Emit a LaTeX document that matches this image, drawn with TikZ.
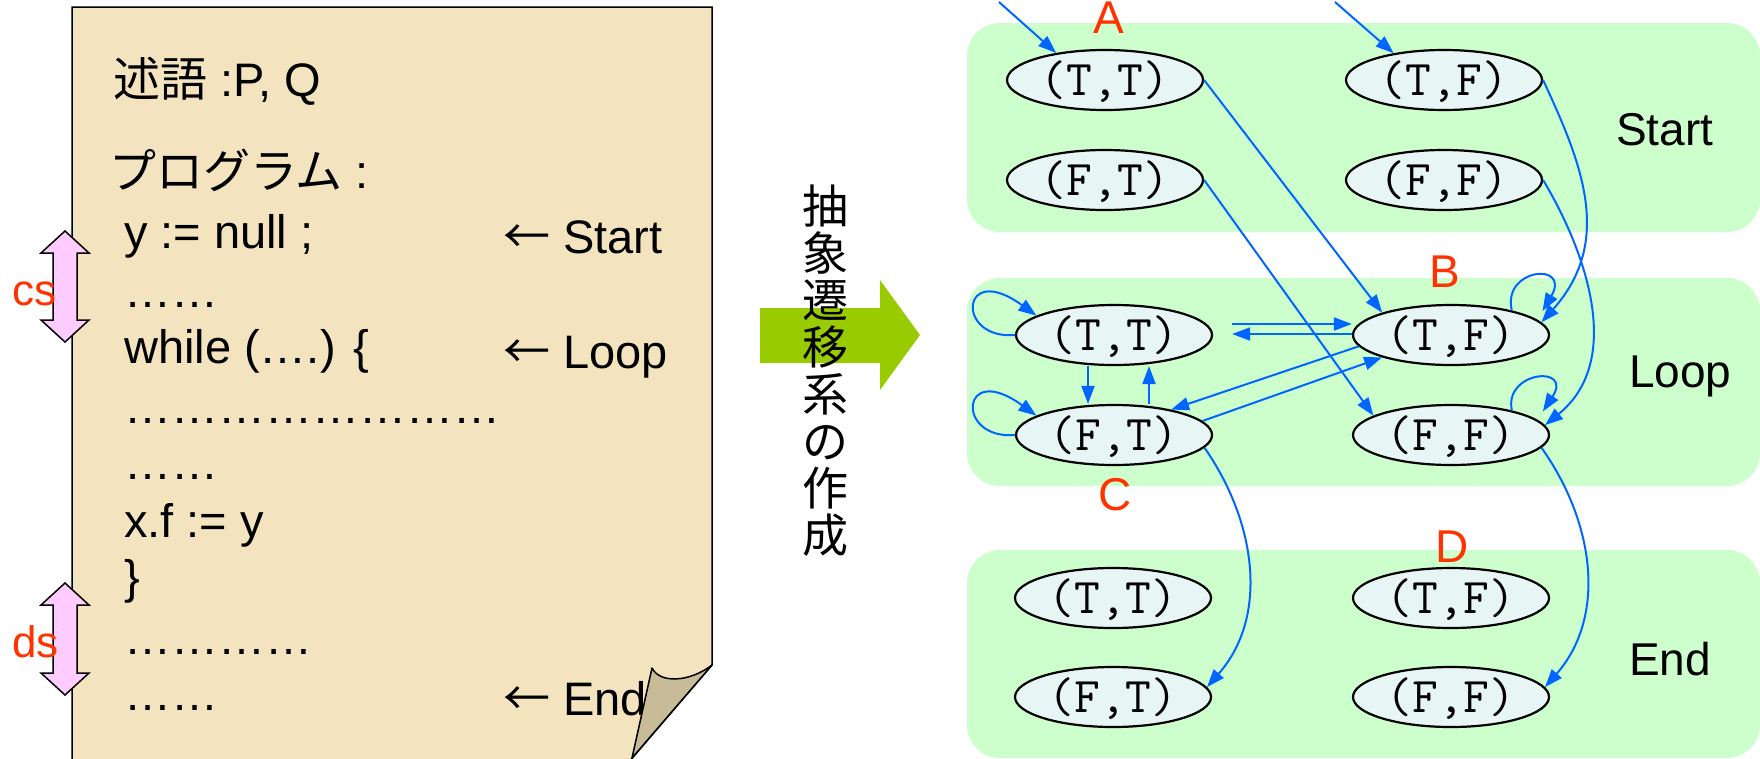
\documentclass[tikz,border=0pt]{standalone}
\usepackage{fontspec}
\setmainfont{Liberation Sans}
\newfontfamily\cjk{Noto Sans CJK JP}
\usetikzlibrary{arrows.meta,shapes.geometric}
\definecolor{pagefill}{RGB}{243,228,191}
\definecolor{curlfill}{RGB}{200,188,152}
\definecolor{grp}{RGB}{204,255,204}
\definecolor{ellf}{RGB}{232,245,245}
\definecolor{arrc}{RGB}{0,102,255}
\definecolor{lbl}{RGB}{255,51,0}
\definecolor{pinkf}{RGB}{255,204,255}
\definecolor{bigarrow}{RGB}{153,204,0}
\begin{document}
\begin{tikzpicture}[x=1pt,y=-1pt,
  stnode/.style={ellipse, draw=black, line width=2.2pt, fill=ellf, minimum width=196pt, minimum height=60pt, inner sep=0pt, text height=30pt, text depth=0pt, font=\ttfamily\fontsize{50}{50}\selectfont},
  grpbox/.style={fill=grp, rounded corners=33pt},
  tr/.style={draw=arrc, line width=2pt, -{Triangle[length=18pt,width=13pt]}},
  code/.style={anchor=base west, inner sep=0pt, font=\fontsize{47}{50}\selectfont},
  lab/.style={anchor=base west, inner sep=0pt, font=\fontsize{46}{50}\selectfont},
  redl/.style={anchor=base, inner sep=0pt, text=lbl, font=\fontsize{46}{50}\selectfont},
  redw/.style={anchor=base west, inner sep=0pt, text=lbl, font=\fontsize{44}{50}\selectfont},
  pinkarrow/.style={fill=pinkf, draw=black, line width=1.5pt, line join=miter},
]
\useasboundingbox (0,0) rectangle (1760,758);

% ---------------- left page ----------------
\filldraw[fill=pagefill, draw=black, line width=1.5pt] (72,7) -- (712,7) -- (712,665) -- (622,770) -- (72,770) -- cycle;

\node[code] (p1) at (113,96) {{\cjk 述語} :P, Q};
\node[code] (p2) at (109,188) {{\cjk プログラム} :};
\node[code] (c1) at (124,248) {y := null ;};
\node[code] (c2) at (124,307) {……};
\node[code] (c3) at (124,363) {while (….) \{};
\node[code] (c4) at (124,423) {……………………};
\node[code] (c5) at (124,479) {……};
\node[code] (c6) at (124,537) {x.f := y};
\node[code] (c7) at (124,593) {\}};
\node[code] (c8) at (124,654) {…………};
\node[code] (c9) at (124,710) {……};
\node[code] (r1) at (503,253) {{\cjk ←} Start};
\node[code] (r2) at (503,368) {{\cjk ←} Loop};
\node[code] (r3) at (503,715) {{\cjk ←} End};

% page curl
\filldraw[fill=curlfill, draw=black, line width=1.5pt, line join=round] (652,668) .. controls (660,684) and (690,682) .. (712,665) -- (632,758) -- cycle;

% pink double arrows
\filldraw[pinkarrow] (65,231) -- (89,253) -- (77,253) -- (77,320) -- (89,320) -- (65,342) -- (41,320) -- (53,320) -- (53,253) -- (41,253) -- cycle;
\filldraw[pinkarrow] (65,583) -- (89,605) -- (77,605) -- (77,673) -- (89,673) -- (65,695) -- (41,673) -- (53,673) -- (53,605) -- (41,605) -- cycle;
\node[redw] (cs) at (12,305) {cs};
\node[redw] (ds) at (12,657) {ds};

% ---------------- middle arrow ----------------
\fill[bigarrow] (760,308) -- (880,308) -- (880,280) -- (920,335) -- (880,390) -- (880,363) -- (760,363) -- cycle;
\node[inner sep=0pt, align=center, font=\cjk\fontsize{46}{47}\selectfont] (vt) at (825,371) {抽\\象\\遷\\移\\系\\の\\作\\成};

% ---------------- right side ----------------
\fill[grpbox] (967,23) rectangle (1760,232);
\fill[grpbox] (967,278) rectangle (1760,486);
\fill[grpbox] (967,550) rectangle (1760,758);

\node[lab] (gs) at (1616,145) {Start};
\node[lab] (gl) at (1629,387) {Loop};
\node[lab] (ge) at (1629,675) {End};

\node[stnode] (s1) at (1105,80) {(T,T)};
\node[stnode] (s2) at (1444,80) {(T,F)};
\node[stnode] (s3) at (1105,180) {(F,T)};
\node[stnode] (s4) at (1444,180) {(F,F)};

\node[stnode] (l1) at (1114,335) {(T,T)};
\node[stnode] (l2) at (1451,335) {(T,F)};
\node[stnode] (l3) at (1114,435) {(F,T)};
\node[stnode] (l4) at (1451,435) {(F,F)};

\node[stnode] (e1) at (1113,598) {(T,T)};
\node[stnode] (e2) at (1451,598) {(T,F)};
\node[stnode] (e3) at (1113,697) {(F,T)};
\node[stnode] (e4) at (1451,697) {(F,F)};

\node[redl] (A) at (1109,33) {A};
\node[redl] (B) at (1445,287) {B};
\node[redl] (C) at (1115,510) {C};
\node[redl] (D) at (1452,562) {D};

% incoming
\coordinate (in1) at (999,2);
\coordinate (in2) at (1335,2);
\draw[tr] (in1) -- (s1.151);
\draw[tr] (in2) -- (s2.152);

% start -> loop
\draw[tr] (s1.east) -- (l2.162);
\draw[tr] (s3.east) -- (l4.166);
\draw[tr] (s2.east) .. controls (1580,160) and (1615,240) .. (l2.8);
\draw[tr] (s4.east) .. controls (1585,250) and (1625,360) .. (l4.6);

% loop self loops
\draw[tr] (l1.west) .. controls (955,340) and (960,260) .. (l1.166);
\draw[tr] (l3.west) .. controls (955,440) and (960,360) .. (l3.166);
\draw[tr, shorten >=10pt] (l2.22) .. controls +(-10,-43) and +(34,-58) .. (l2.10);
\draw[tr, shorten >=10pt] (l4.22) .. controls +(-8,-40) and +(36,-55) .. (l4.10);

% loop internal
\draw[tr] ([xshift=-26pt]l1.south) -- ([xshift=-26pt]l3.north);
\draw[tr] ([xshift=35pt]l3.north) -- ([xshift=35pt]l1.south);
\draw[tr, shorten <=19pt] ([yshift=11pt]l1.east) -- ([yshift=11pt]l2.west);
\draw[tr, shorten >=19pt] ([yshift=1pt]l2.west) -- ([yshift=1pt]l1.east);
\draw[tr] (l2.187) -- (l3.24);
\draw[tr] (l3.9) -- (l2.198);

% loop -> end
\draw[tr] (l3.-8) .. controls (1255,520) and (1270,615) .. (e3.6);
\draw[tr] (l4.-8) .. controls (1593,520) and (1608,615) .. (e4.6);
\end{tikzpicture}
\end{document}
